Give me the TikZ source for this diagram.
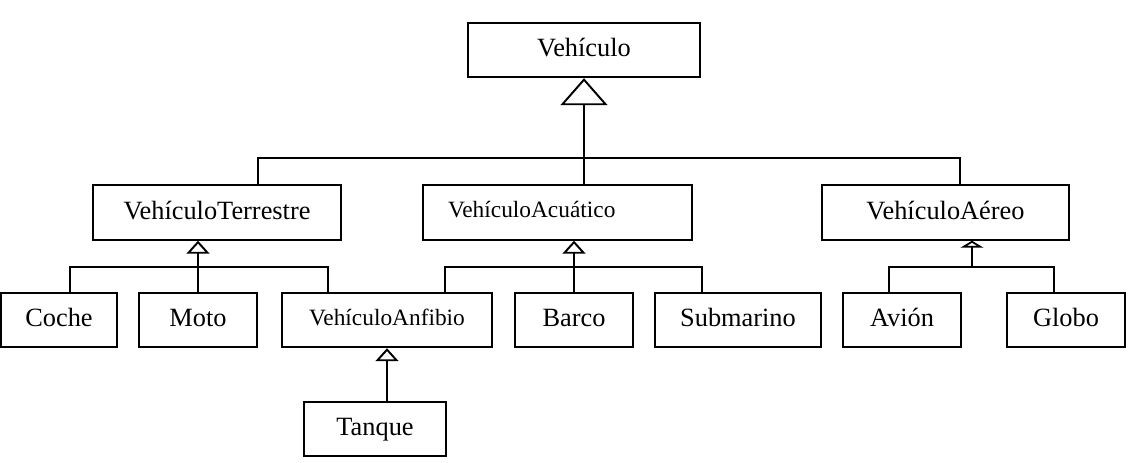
\documentclass[tikz,border=0pt]{standalone}
\usepackage{fontspec}
\setmainfont{Liberation Serif}
\usetikzlibrary{positioning,arrows.meta}
\tikzset{
  cls/.style={rectangle, draw, line width=1.1pt, minimum height=1.09cm, inner sep=2pt,
              text height=0.76em, text depth=0pt,
              font=\fontsize{15}{18}\selectfont},
  small/.style={font=\fontsize{13.3}{16}\selectfont, text height=0.62em},
  link/.style={line width=1.1pt},
  gen/.style={link, -{Triangle[open, width=0.94cm, length=0.54cm]}},
  gensmall/.style={link, -{Triangle[open, width=0.46cm, length=0.26cm]}},
  genflat/.style={link, -{Triangle[open, width=0.46cm, length=0.14cm]}},
}
\begin{document}
\begin{tikzpicture}[x=0.02cm, y=-0.02cm]
  \useasboundingbox (0,0) rectangle (1140,463);

  % top class
  \node[cls, minimum width=4.64cm] (veh) at (584,50) {Vehículo};

  % second level
  \node[cls, minimum width=4.96cm] (terr) at (217,212.5) {VehículoTerrestre};
  \node[cls, small, text width=4.38cm, inner xsep=0.5cm, align=left, minimum height=1.09cm] (acua) at (557.5,212.5) {VehículoAcuático};
  \node[cls, minimum width=4.94cm] (aereo) at (945.5,212.5) {VehículoAéreo};

  % third level
  \node[cls, minimum width=2.32cm] (coche) at (59,320) {Coche};
  \node[cls, minimum width=2.36cm] (moto) at (198,320) {Moto};
  \node[cls, small, minimum width=4.2cm] (anfi) at (387,320) {VehículoAnfibio};
  \node[cls, minimum width=2.36cm] (barco) at (574,320) {Barco};
  \node[cls, minimum width=3.32cm] (sub) at (738,320) {Submarino};
  \node[cls, minimum width=2.36cm] (avion) at (902,320) {Avión};
  \node[cls, minimum width=2.36cm] (globo) at (1066,320) {Globo};

  % bottom
  \node[cls, minimum width=2.84cm] (tanque) at (375,429) {Tanque};

  % Vehiculo and its subclasses
  \coordinate (vbus) at (584,158);
  \draw[gen] (vbus) -- (veh.south);
  \draw[link] (vbus) -| ([xshift=0.82cm]terr.north);
  \draw[link] (vbus) -- (vbus |- acua.north);
  \draw[link] (vbus) -| ([xshift=0.29cm]aereo.north);

  % terrestre
  \coordinate (tbus) at (198,267);
  \draw[gensmall] (tbus) -- (tbus |- terr.south);
  \draw[link] ([xshift=0.22cm]coche.north) |- (tbus);
  \draw[link] (moto.north) -- (moto.north |- tbus);
  \draw[link] ([xshift=-1.18cm]anfi.north) |- (tbus);

  % acuatico
  \coordinate (abus) at (574,267);
  \draw[gensmall] (abus) -- (abus |- acua.south);
  \draw[link] ([xshift=1.16cm]anfi.north) |- (abus);
  \draw[link] (barco.north) -- (barco.north |- abus);
  \draw[link] ([xshift=-0.72cm]sub.north) |- (abus);

  % aereo
  \coordinate (ebus) at (972,267);
  \draw[genflat] (ebus) -- (ebus |- aereo.south);
  \draw[link] ([xshift=-0.26cm]avion.north) |- (ebus);
  \draw[link] ([xshift=-0.24cm]globo.north) |- (ebus);

  % anfibio
  \draw[gensmall] (tanque.north -| anfi.south) -- (anfi.south);
\end{tikzpicture}
\end{document}
